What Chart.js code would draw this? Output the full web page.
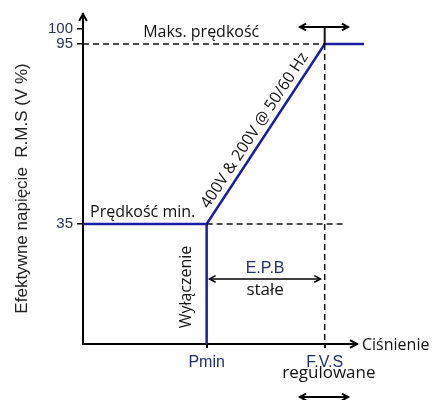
<!DOCTYPE html>
<html>
<head>
<meta charset="utf-8">
<script src="https://cdn.jsdelivr.net/npm/chart.js@4"></script>
<style>
  html, body { margin: 0; padding: 0; background: #ffffff; }
  #wrap { width: 436px; height: 400px; }
</style>
</head>
<body>
<div id="wrap"><canvas id="c" width="436" height="400"></canvas></div>
<script>
// ---- data (pressure in arbitrary units, voltage in % RMS) ----
const xTickValues = [44, 86];
const xTickLabels = ['Pmin', 'F.V.S'];
const yTickValues = [35, 95, 100];

const curveX = [0, 44, 86, 100];
const curveY = [35, 35, 95, 95];
const cutoffX = [44, 44];
const cutoffY = [-5, 35];

const dashMaxX = [0, 86];
const dashMaxY = [95, 95];
const dashMinX = [44, 93];
const dashMinY = [35, 35];
const dashFvsX = [86, 86];
const dashFvsY = [95, -6];
const fvsMarkX = [86, 86];
const fvsMarkY = [95, 100.7];

const yTitle = 'Efektywne napięcie  R.M.S (V %)    ';
const xTitle = 'Ciśnienie';
const labelMax = 'Maks. prędkość';
const labelMin = 'Prędkość min.';
const labelOff = 'Wyłączenie';
const labelRamp = '400V & 200V @ 50/60 Hz';
const labelEpb = 'E.P.B';
const labelConst = 'stałe';
const labelAdj = 'regulowane';

const toPts = (xs, ys) => xs.map((x, i) => ({x: x, y: ys[i]}));

const BLUE = '#1c1ca6';
const NAVY = '#23306a';
const TICK = '#2a3150';
const HUMAN = '"Open Sans", "Noto Sans", sans-serif';
const ARIAL = '"Liberation Sans", Arial, sans-serif';

function arrowHead(ctx, x, y, dir, size) {
  ctx.beginPath();
  ctx.moveTo(x - size * Math.cos(dir - 0.5), y - size * Math.sin(dir - 0.5));
  ctx.lineTo(x, y);
  ctx.lineTo(x - size * Math.cos(dir + 0.5), y - size * Math.sin(dir + 0.5));
  ctx.stroke();
}
function dblArrow(ctx, x1, x2, y) {
  ctx.beginPath();
  ctx.moveTo(x1, y); ctx.lineTo(x2, y); ctx.stroke();
  arrowHead(ctx, x1, y, Math.PI, 7);
  arrowHead(ctx, x2, y, 0, 7);
}

const annot = {
  id: 'annot',
  afterDraw(chart) {
    const ctx = chart.ctx;
    const xs = chart.scales.x, ys = chart.scales.y;
    const px = v => xs.getPixelForValue(v);
    const py = v => ys.getPixelForValue(v);
    ctx.save();
    ctx.strokeStyle = '#000';
    ctx.fillStyle = '#000';
    ctx.lineWidth = 2;

    // axis arrow heads
    arrowHead(ctx, chart.chartArea.left, chart.chartArea.top, -Math.PI / 2, 8);
    arrowHead(ctx, chart.chartArea.right, ys.bottom, 0, 8);

    // double arrows
    dblArrow(ctx, px(77.2), px(94.3), py(100.7));
    dblArrow(ctx, px(77.2), px(94.3), py(-22.7));
    ctx.lineWidth = 1.5;
    dblArrow(ctx, px(45), px(84.5), py(16.7));

    // texts
    ctx.textBaseline = 'middle';
    ctx.fillStyle = '#111';
    ctx.font = '16px ' + HUMAN;
    ctx.textAlign = 'left';
    ctx.fillText(labelMax, px(21.4), py(98.7));
    ctx.fillText(labelMin, px(2.5), py(38.7));
    ctx.fillText(xTitle, chart.chartArea.right + 5, ys.bottom + 1);

    ctx.textAlign = 'center';
    ctx.font = '17px ' + HUMAN;
    ctx.fillText(labelConst, px(64.8), py(13));
    ctx.fillText(labelAdj, px(87.5), py(-14.7));

    ctx.font = '16px ' + HUMAN;
    ctx.save();
    ctx.translate(px(36.7), py(14));
    ctx.rotate(-Math.PI / 2);
    ctx.fillText(labelOff, 0, 0);
    ctx.restore();

    // ramp label, parallel to the ramp
    const x1 = px(44), y1 = py(35), x2 = px(86), y2 = py(95);
    const ang = Math.atan2(y2 - y1, x2 - x1);
    ctx.save();
    ctx.translate((x1 + x2) / 2, (y1 + y2) / 2);
    ctx.rotate(ang);
    ctx.fillText(labelRamp, -3, -11);
    ctx.restore();

    ctx.fillStyle = NAVY;
    ctx.font = '16px ' + ARIAL;
    ctx.fillText(labelEpb, px(64.8), py(20.3));
    ctx.restore();
  }
};

new Chart(document.getElementById('c'), {
  type: 'line',
  data: {
    datasets: [
      {data: toPts(dashMaxX, dashMaxY), borderColor: '#111', borderWidth: 1.5, borderDash: [6, 4]},
      {data: toPts(dashMinX, dashMinY), borderColor: '#111', borderWidth: 1.5, borderDash: [6, 4]},
      {data: toPts(dashFvsX, dashFvsY), borderColor: '#111', borderWidth: 1.5, borderDash: [6, 4]},
      {data: toPts(fvsMarkX, fvsMarkY), borderColor: '#111', borderWidth: 2},
      {data: toPts(curveX, curveY), borderColor: BLUE, borderWidth: 2.5},
      {data: toPts(cutoffX, cutoffY), borderColor: BLUE, borderWidth: 2.5}
    ]
  },
  options: {
    responsive: false,
    animation: false,
    clip: false,
    layout: {padding: {left: 0, top: 14, right: 79, bottom: 0}},
    elements: {point: {radius: 0}, line: {tension: 0, fill: false}},
    plugins: {legend: {display: false}, tooltip: {enabled: false}},
    scales: {
      x: {
        type: 'linear', min: 0, max: 97.5,
        afterFit: s => { s.height = 56; },
        afterBuildTicks: s => { s.ticks = xTickValues.map(v => ({value: v})); },
        ticks: {
          autoSkip: false, maxRotation: 0, padding: 5,
          color: NAVY, font: {family: ARIAL, size: 16},
          callback: v => xTickLabels[xTickValues.indexOf(v)]
        },
        grid: {drawOnChartArea: false, drawTicks: true, tickLength: 4, color: '#000', lineWidth: 2},
        border: {display: true, color: '#000', width: 2}
      },
      y: {
        type: 'linear', min: -5, max: 105,
        afterFit: s => { s.width = 83; },
        afterBuildTicks: s => { s.ticks = yTickValues.map(v => ({value: v})); },
        ticks: {
          autoSkip: false, padding: 4,
          color: TICK, font: {family: ARIAL, size: 15},
          callback: v => String(v)
        },
        grid: {drawOnChartArea: false, drawTicks: true, tickLength: 6, color: '#000', lineWidth: 1.5},
        border: {display: true, color: '#000', width: 2},
        title: {display: true, text: yTitle, color: '#222', font: {family: ARIAL, size: 17}, padding: {top: 12}}
      }
    }
  },
  plugins: [annot]
});
</script>
</body>
</html>
